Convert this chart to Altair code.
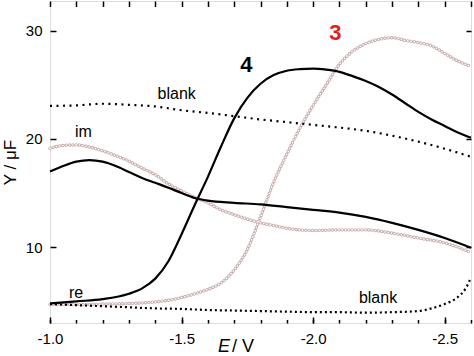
import altair as alt
import pandas as pd

# ---------- data ----------
E_4re = [-1.00, -1.10, -1.20, -1.30, -1.35, -1.40, -1.45, -1.50, -1.55, -1.60,
         -1.65, -1.70, -1.75, -1.80, -1.85, -1.90, -1.95, -2.00, -2.05, -2.10,
         -2.15, -2.20, -2.25, -2.30, -2.35, -2.40, -2.45, -2.50, -2.55, -2.60]
Y_4re = [4.8, 5.0, 5.2, 5.7, 6.2, 7.1, 8.7, 11.2, 13.9, 16.5,
         19.3, 21.9, 23.8, 25.1, 25.9, 26.3, 26.45, 26.5, 26.4, 26.2,
         25.8, 25.35, 24.8, 24.1, 23.3, 22.5, 21.8, 21.2, 20.6, 20.1]

E_4im = [-1.00, -1.05, -1.10, -1.15, -1.20, -1.25, -1.30, -1.35, -1.40, -1.45,
         -1.50, -1.55, -1.60, -1.70, -1.80, -1.90, -2.00, -2.10, -2.20, -2.30,
         -2.40, -2.50, -2.60]
Y_4im = [17.0, 17.5, 17.9, 18.05, 17.9, 17.5, 16.95, 16.4, 15.95, 15.5,
         15.0, 14.55, 14.3, 14.1, 13.95, 13.7, 13.45, 13.2, 12.8, 12.25,
         11.6, 10.85, 9.95]

E_3re = [-1.00, -1.10, -1.20, -1.30, -1.40, -1.45, -1.50, -1.55, -1.60, -1.65,
         -1.70, -1.75, -1.80, -1.85, -1.90, -1.95, -2.00, -2.05, -2.10, -2.15,
         -2.20, -2.25, -2.30, -2.35, -2.40, -2.45, -2.50, -2.55, -2.60]
Y_3re = [4.7, 4.7, 4.75, 4.8, 4.95, 5.1, 5.35, 5.7, 6.1, 6.7,
         7.9, 9.8, 12.8, 16.0, 18.6, 21.0, 23.1, 25.0, 26.9, 28.1,
         28.8, 29.2, 29.35, 29.1, 28.9, 28.6, 27.9, 27.2, 26.7]

E_3im = [-1.00, -1.05, -1.10, -1.15, -1.20, -1.25, -1.30, -1.35, -1.40, -1.45,
         -1.50, -1.55, -1.60, -1.65, -1.70, -1.75, -1.80, -1.85, -1.90, -1.95,
         -2.00, -2.10, -2.20, -2.30, -2.40, -2.50, -2.60]
Y_3im = [19.15, 19.4, 19.45, 19.25, 18.9, 18.45, 17.95, 17.3, 16.7, 15.85,
         15.2, 14.6, 14.1, 13.45, 13.0, 12.6, 12.25, 12.0, 11.75, 11.6,
         11.55, 11.6, 11.6, 11.3, 10.85, 10.4, 9.5]

E_blank_im = [-1.0, -1.1, -1.2, -1.3, -1.4, -1.5, -1.6, -1.7, -1.8, -1.9,
              -2.0, -2.1, -2.2, -2.3, -2.4, -2.5, -2.6]
Y_blank_im = [23.05, 23.1, 23.25, 23.15, 23.0, 22.65, 22.4, 22.1, 21.8, 21.55,
              21.3, 21.05, 20.75, 20.3, 19.75, 19.1, 18.35]

E_blank_re = [-1.0, -1.1, -1.2, -1.3, -1.4, -1.5, -1.6, -1.7, -1.8, -1.9,
              -2.0, -2.1, -2.2, -2.3, -2.4, -2.45, -2.5, -2.55, -2.58, -2.6]
Y_blank_re = [4.75, 4.65, 4.55, 4.45, 4.35, 4.3, 4.2, 4.15, 4.1, 4.05,
              4.0, 4.0, 3.95, 4.0, 4.1, 4.35, 4.75, 5.4, 6.2, 7.2]

x_major_ticks = [-1.0, -1.5, -2.0, -2.5]
x_minor_ticks = [-1.0, -1.1, -1.2, -1.3, -1.4, -1.5, -1.6, -1.7, -1.8, -1.9,
                 -2.0, -2.1, -2.2, -2.3, -2.4, -2.5, -2.6]
y_ticks = [10, 20, 30]

num_labels = ["4", "3"]
num_E = [-1.723, -2.061]
num_Y = [26.19, 29.14]
num_colors = ["#000000", "#e0201c"]

word_labels = ["blank", "im", "re", "blank"]
word_E = [-1.409, -1.095, -1.072, -2.174]
word_Y = [23.66, 20.16, 5.32, 4.83]

FONT = "Liberation Sans"


def frame(E, Y, name):
    return pd.DataFrame({"E": E, "Y": Y, "series": name})


df_circ = pd.concat([frame(E_3re, Y_3re, "3re"), frame(E_3im, Y_3im, "3im")])
df_dot_im = frame(E_blank_im, Y_blank_im, "blank_im")
df_dot_re = frame(E_blank_re, Y_blank_re, "blank_re")
df_solid = pd.concat([frame(E_4re, Y_4re, "4re"), frame(E_4im, Y_4im, "4im")])
df_num = pd.DataFrame({"t": num_labels, "E": num_E, "Y": num_Y, "c": num_colors})
df_word = pd.DataFrame({"t": word_labels, "E": word_E, "Y": word_Y})

xscale = alt.Scale(domain=[-2.6, -1.0], reverse=True, nice=False, zero=False)
yscale = alt.Scale(domain=[3.0, 32.74], nice=False, zero=False)

common_axis = dict(domain=False, grid=False, tickColor="black", tickWidth=1.5,
                   labelColor="black", labelFont=FONT, labelFontSize=15,
                   labelFlush=False)

x_major = alt.Axis(orient="bottom", values=x_major_ticks, tickSize=6, offset=-6,
                   labelPadding=8, title=None,
                   labelExpr="replace(format(datum.value, '.1f'), '\u2212', '-')",
                   **common_axis)
x_minor = alt.Axis(orient="bottom", values=x_minor_ticks, tickSize=3.5, offset=-3.5,
                   labels=False, title=None, **common_axis)
x_top = alt.Axis(orient="top", values=x_minor_ticks, tickSize=5.5, offset=-5.5,
                 labels=False, title=None, **common_axis)
y_left = alt.Axis(orient="left", values=y_ticks, tickSize=6, offset=-6,
                  labelPadding=8, title="Y / μF", titleFont=FONT, titleFontSize=17,
                  titleFontWeight="normal", titleColor="black", titlePadding=6,
                  **common_axis)
y_right = alt.Axis(orient="right", values=y_ticks, tickSize=5, offset=-5,
                   labels=False, title=None, **common_axis)

# open circles (pale) drawn as ring dots
circ_outer = alt.Chart(df_circ).mark_line(
    color="#c8adad", strokeWidth=3.4, strokeDash=[0.1, 3.2], strokeCap="round",
    interpolate="monotone"
).encode(
    x=alt.X("E:Q", scale=xscale, axis=x_top),
    y=alt.Y("Y:Q", scale=yscale, axis=None),
    detail="series:N",
)
circ_inner = alt.Chart(df_circ).mark_line(
    color="white", strokeWidth=1.6, strokeDash=[0.1, 3.2], strokeCap="round",
    interpolate="monotone"
).encode(
    x=alt.X("E:Q", scale=xscale, axis=None),
    y=alt.Y("Y:Q", scale=yscale, axis=None),
    detail="series:N",
)

dot_im = alt.Chart(df_dot_im).mark_line(
    color="black", strokeWidth=2.2, strokeDash=[2, 4.5], interpolate="monotone"
).encode(
    x=alt.X("E:Q", scale=xscale, axis=x_minor),
    y=alt.Y("Y:Q", scale=yscale, axis=y_right),
)
dot_re = alt.Chart(df_dot_re).mark_line(
    color="black", strokeWidth=2.2, strokeDash=[2, 3], interpolate="monotone"
).encode(
    x=alt.X("E:Q", scale=xscale, axis=None),
    y=alt.Y("Y:Q", scale=yscale, axis=None),
)

solid = alt.Chart(df_solid).mark_line(
    color="black", strokeWidth=2.2, interpolate="monotone"
).encode(
    x=alt.X("E:Q", scale=xscale, axis=x_major),
    y=alt.Y("Y:Q", scale=yscale, axis=y_left),
    detail="series:N",
)

nums = alt.Chart(df_num).mark_text(
    font=FONT, fontSize=22, fontWeight="bold", align="left", baseline="alphabetic"
).encode(
    x=alt.X("E:Q", scale=xscale, axis=None),
    y=alt.Y("Y:Q", scale=yscale, axis=None),
    text="t:N",
    color=alt.Color("c:N", scale=None),
)
words = alt.Chart(df_word).mark_text(
    font=FONT, fontSize=16, align="left", baseline="alphabetic", color="black"
).encode(
    x=alt.X("E:Q", scale=xscale, axis=None),
    y=alt.Y("Y:Q", scale=yscale, axis=None),
    text="t:N",
)

xt_E = alt.Chart(pd.DataFrame({"t": ["E"]})).mark_text(
    font=FONT, fontSize=18, fontStyle="italic", align="left", baseline="alphabetic",
    color="black"
).encode(x=alt.value(168), y=alt.value(351), text="t:N")
xt_V = alt.Chart(pd.DataFrame({"t": ["/ V"]})).mark_text(
    font=FONT, fontSize=18, align="left", baseline="alphabetic", color="black"
).encode(x=alt.value(182), y=alt.value(351), text="t:N")

chart = alt.layer(
    circ_outer, circ_inner, dot_im, dot_re, solid, nums, words, xt_E, xt_V
).resolve_axis(
    x="independent", y="independent"
).properties(
    width=421, height=322,
    autosize=alt.AutoSizeParams(type="none"),
    padding={"left": 50, "top": 1, "right": 3, "bottom": 33},
).configure_view(
    stroke="black", strokeWidth=1.5
).configure(background="white")

chart.save("out.html", embed_options={"renderer": "svg", "actions": False})
